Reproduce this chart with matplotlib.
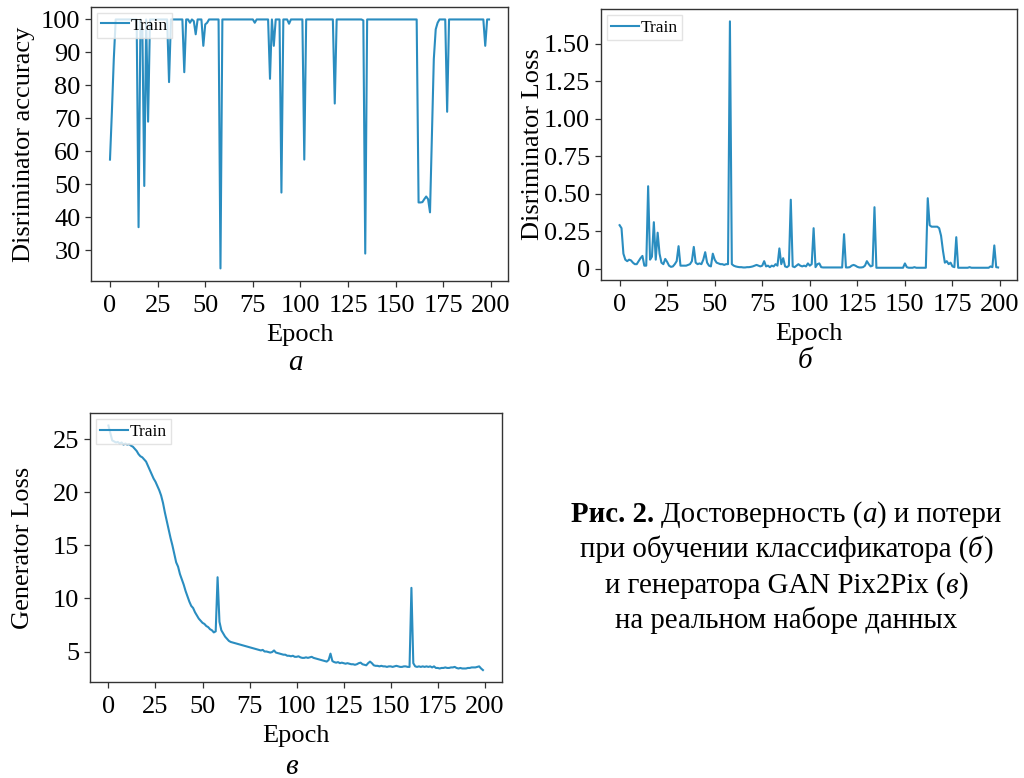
import matplotlib
matplotlib.use('Agg')
import matplotlib.pyplot as plt

plt.rcParams['font.family'] = 'serif'
plt.rcParams['font.serif'] = ['Liberation Serif', 'DejaVu Serif']

epochs = list(range(200))

disc_acc = [
    57.5, 72, 88, 100, 100, 100, 100, 100, 100, 100,
    100, 100, 100, 100, 100, 37, 100, 97, 49.5, 100,
    69, 100, 100, 100, 100, 100, 100, 100, 100, 100,
    100, 81, 100, 100, 100, 100, 100, 100, 100, 84,
    100, 100, 99, 100, 99.5, 95.5, 100, 100, 100, 92,
    98.5, 99, 100, 100, 100, 100, 100, 100, 24.5, 100,
    100, 100, 100, 100, 100, 100, 100, 100, 100, 100,
    100, 100, 100, 100, 100, 100, 99, 100, 100, 100,
    100, 100, 100, 100, 82, 100, 92, 100, 100, 100,
    47.5, 100, 100, 100, 98.7, 100, 100, 100, 100, 100,
    100, 100, 57.5, 100, 100, 100, 100, 100, 100, 100,
    100, 100, 100, 100, 100, 100, 100, 100, 74.5, 100,
    100, 100, 100, 100, 100, 100, 100, 100, 100, 100,
    100, 100, 100, 99.7, 29, 100, 100, 100, 100, 100,
    100, 100, 100, 100, 100, 100, 100, 100, 100, 100,
    100, 100, 100, 100, 100, 100, 100, 100, 100, 100,
    100, 100, 44.5, 44.5, 44.6, 45.5, 46.3, 45.5, 41.5, 65,
    88, 97, 99, 100, 100, 100, 100, 72, 100, 100,
    100, 100, 100, 100, 100, 100, 100, 100, 100, 100,
    100, 100, 100, 100, 100, 100, 100, 92, 100, 100,
]

disc_loss = [
    0.29, 0.27, 0.10, 0.06, 0.05, 0.06, 0.055, 0.04, 0.03, 0.03,
    0.05, 0.07, 0.085, 0.02, 0.02, 0.55, 0.06, 0.08, 0.31, 0.06,
    0.24, 0.10, 0.04, 0.03, 0.065, 0.045, 0.02, 0.012, 0.015, 0.03,
    0.05, 0.15, 0.02, 0.02, 0.02, 0.02, 0.025, 0.03, 0.05, 0.145,
    0.04, 0.03, 0.035, 0.03, 0.06, 0.11, 0.04, 0.02, 0.015, 0.10,
    0.06, 0.04, 0.035, 0.03, 0.03, 0.025, 0.03, 0.03, 1.65, 0.03,
    0.02, 0.015, 0.012, 0.01, 0.01, 0.008, 0.008, 0.01, 0.01, 0.012,
    0.015, 0.02, 0.025, 0.02, 0.015, 0.02, 0.05, 0.015, 0.02, 0.01,
    0.02, 0.015, 0.03, 0.02, 0.135, 0.03, 0.07, 0.015, 0.01, 0.02,
    0.46, 0.015, 0.01, 0.02, 0.03, 0.02, 0.015, 0.02, 0.015, 0.035,
    0.02, 0.03, 0.27, 0.01, 0.03, 0.035, 0.01, 0.008, 0.008, 0.008,
    0.008, 0.008, 0.008, 0.008, 0.008, 0.008, 0.008, 0.008, 0.23, 0.008,
    0.008, 0.01, 0.02, 0.025, 0.02, 0.012, 0.008, 0.008, 0.01, 0.02,
    0.05, 0.03, 0.015, 0.02, 0.41, 0.006, 0.006, 0.006, 0.006, 0.006,
    0.006, 0.006, 0.006, 0.006, 0.006, 0.006, 0.006, 0.006, 0.006, 0.006,
    0.035, 0.01, 0.006, 0.006, 0.006, 0.01, 0.006, 0.006, 0.006, 0.006,
    0.006, 0.006, 0.47, 0.29, 0.28, 0.28, 0.28, 0.28, 0.27, 0.22,
    0.12, 0.04, 0.05, 0.03, 0.04, 0.015, 0.01, 0.21, 0.006, 0.006,
    0.006, 0.006, 0.006, 0.006, 0.01, 0.006, 0.006, 0.006, 0.006, 0.006,
    0.006, 0.006, 0.006, 0.006, 0.006, 0.015, 0.01, 0.155, 0.01, 0.008,
]

gen_loss = [
    26.3, 25.6, 24.9, 24.8, 24.7, 24.75, 24.6, 24.7, 24.5, 24.6,
    24.5, 24.55, 24.4, 24.3, 24.1, 23.9, 23.6, 23.4, 23.3, 23.1,
    22.9, 22.5, 22.1, 21.7, 21.3, 21.0, 20.6, 20.2, 19.7, 19.0,
    18.1, 17.3, 16.5, 15.7, 15.0, 14.2, 13.4, 13.0, 12.3, 11.8,
    11.3, 10.7, 10.2, 9.7, 9.3, 9.1, 8.7, 8.4, 8.1, 7.9,
    7.7, 7.6, 7.4, 7.3, 7.1, 7.0, 6.8, 6.9, 12.0, 7.8,
    7.0, 6.7, 6.4, 6.2, 6.0, 5.9, 5.85, 5.8, 5.75, 5.7,
    5.65, 5.6, 5.55, 5.5, 5.45, 5.4, 5.35, 5.3, 5.25, 5.2,
    5.15, 5.1, 5.15, 5.0, 5.0, 4.95, 4.9, 4.95, 5.1, 4.9,
    4.85, 4.8, 4.75, 4.7, 4.7, 4.6, 4.6, 4.55, 4.6, 4.5,
    4.5, 4.55, 4.45, 4.4, 4.4, 4.45, 4.4, 4.45, 4.5, 4.4,
    4.35, 4.3, 4.25, 4.2, 4.15, 4.1, 4.05, 4.2, 4.8, 4.1,
    4.0, 3.95, 4.0, 3.9, 3.95, 3.9, 3.85, 3.9, 3.85, 3.8,
    3.8, 3.75, 3.8, 3.9, 3.95, 3.8, 3.75, 3.7, 3.9, 4.05,
    3.9, 3.7, 3.65, 3.65, 3.6, 3.65, 3.6, 3.6, 3.55, 3.6,
    3.6, 3.55, 3.6, 3.65, 3.6, 3.55, 3.55, 3.6, 3.6, 3.55,
    3.55, 11.0, 3.9, 3.6, 3.55, 3.6, 3.55, 3.6, 3.55, 3.6,
    3.55, 3.6, 3.5, 3.6, 3.45, 3.45, 3.4, 3.45, 3.45, 3.5,
    3.45, 3.45, 3.5, 3.5, 3.55, 3.45, 3.4, 3.45, 3.4, 3.4,
    3.4, 3.45, 3.45, 3.5, 3.5, 3.5, 3.55, 3.6, 3.4, 3.25,
]

acc_ticks = [30, 40, 50, 60, 70, 80, 90, 100]
loss_ticks = [0, 0.25, 0.5, 0.75, 1.0, 1.25, 1.5]
loss_labels = ['0', '0.25', '0.50', '0.75', '1.00', '1.25', '1.50']
gen_ticks = [5, 10, 15, 20, 25]

LINE = '#2a8dc0'
FS = 19


def panel(ax, y, ylabel):
    ax.plot(epochs, y, color=LINE, lw=1.5, label='Train')
    ax.set_xlabel('Epoch', fontsize=FS, labelpad=5)
    ax.set_ylabel(ylabel, fontsize=FS)
    ax.yaxis.set_label_coords(-0.135, 0.5)
    ax.set_xticks(range(0, 201, 25))
    ax.tick_params(labelsize=FS, color='#333333', length=4, width=0.9)
    ax.tick_params(axis='x', pad=6)
    for sp in ax.spines.values():
        sp.set_color('#333333')
        sp.set_linewidth(1.0)
    ax.legend(loc='upper left', fontsize=12.5, handlelength=1.6,
              handletextpad=0.1, borderpad=0.25, borderaxespad=0.35,
              fancybox=False, edgecolor='#dddddd')


fig = plt.figure(figsize=(10.24, 7.78), dpi=100)
ax_a = fig.add_axes([0.0889, 0.639, 0.4072, 0.352])
ax_b = fig.add_axes([0.5866, 0.640, 0.4066, 0.3484])
ax_c = fig.add_axes([0.0876, 0.123, 0.4023, 0.3458])

panel(ax_a, disc_acc, 'Disriminator accuracy')
ax_a.set_yticks(acc_ticks)
panel(ax_b, disc_loss, 'Disriminator Loss')
ax_b.set_yticks(loss_ticks)
ax_b.set_yticklabels(loss_labels)
panel(ax_c, gen_loss, 'Generator Loss')
ax_c.set_yticks(gen_ticks)

W, H = 1024, 778
fig.text(295 / W, 1 - 363 / H, 'а', fontsize=21, style='italic', ha='center', va='center')
fig.text(805 / W, 1 - 361 / H, 'б', fontsize=21, style='italic', ha='center', va='center')
fig.text(291 / W, 1 - 767 / H, 'в', fontsize=21, style='italic', ha='center', va='center')

# caption with mixed bold / italic pieces
renderer = fig.canvas.get_renderer()
CFS = 20.8
cap_lines = [
    [('Рис. 2.', 'bold', 'normal'), (' ', 'normal', 'normal'),
     ('Достоверность (', 'normal', 'normal'), ('а', 'normal', 'italic'),
     (') и потери', 'normal', 'normal')],
    [('при обучении классификатора (', 'normal', 'normal'), ('б', 'normal', 'italic'),
     (')', 'normal', 'normal')],
    [('и генератора GAN Pix2Pix (', 'normal', 'normal'), ('в', 'normal', 'italic'),
     (')', 'normal', 'normal')],
    [('на реальном наборе данных', 'normal', 'normal')],
]
baselines = [522, 557, 593, 628]
cx = 786


def seg_width(s, weight, style):
    if s == ' ':
        t1 = fig.text(0, 0, 'a a', fontsize=CFS)
        t2 = fig.text(0, 0, 'aa', fontsize=CFS)
        w = t1.get_window_extent(renderer).width - t2.get_window_extent(renderer).width
        t1.remove()
        t2.remove()
        return w
    t = fig.text(0, 0, s, fontsize=CFS, weight=weight, style=style)
    w = t.get_window_extent(renderer).width
    t.remove()
    return w


for parts, by in zip(cap_lines, baselines):
    widths = [seg_width(*p) for p in parts]
    x = cx - sum(widths) / 2
    for (s, weight, style), w in zip(parts, widths):
        if s != ' ':
            fig.text(x / W, 1 - by / H, s, fontsize=CFS, weight=weight, style=style,
                     ha='left', va='baseline')
        x += w

fig.savefig('out.png', dpi=100)
